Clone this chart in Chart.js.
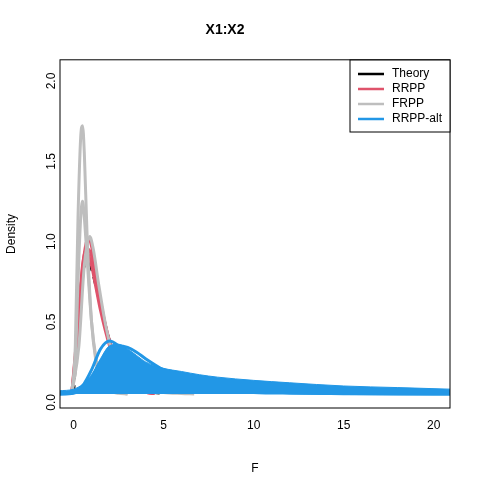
<!DOCTYPE html>
<html><head>
<script src="https://cdn.jsdelivr.net/npm/chart.js@4"></script>
<style>body{margin:0;background:#fff}#wrap{width:480px;height:480px}</style>
</head><body><div id="wrap"><canvas id="c"></canvas></div>
<script>
// --- data ---
const xTicks = [0, 5, 10, 15, 20];
const yTicks = [0, 0.5, 1.0, 1.5, 2.0];
const legendLabels = ['Theory', 'RRPP', 'FRPP', 'RRPP-alt'];
const legendColors = ['#000000', '#DF536B', '#BEBEBE', '#2297E6'];

const theoryX = [0, 0.25, 0.5, 0.75, 1, 1.25, 1.5, 2, 2.5, 3, 3.5, 4, 4.5, 5];
const theoryY = [0, 0.45, 0.75, 0.82, 0.78, 0.67, 0.55, 0.33, 0.19, 0.10, 0.05, 0.025, 0.01, 0.005];

const rrppX = [-0.1, 0.2, 0.5, 0.7, 0.85, 1.0, 1.25, 1.5, 2, 2.5, 3, 3.5, 4, 4.5];
const rrppY1 = [0, 0.35, 0.78, 0.94, 0.97, 0.92, 0.75, 0.58, 0.32, 0.16, 0.07, 0.03, 0.01, 0.003];
const rrppY2 = [0, 0.3, 0.72, 0.88, 0.9, 0.86, 0.72, 0.56, 0.33, 0.17, 0.08, 0.035, 0.012, 0.004];
const rrppY3 = [0, 0.38, 0.8, 0.9, 0.86, 0.8, 0.66, 0.52, 0.3, 0.15, 0.07, 0.03, 0.01, 0.003];

const frppX = [-0.1, 0.1, 0.25, 0.4, 0.5, 0.6, 0.75, 1.0, 1.25, 1.5, 2, 2.5, 3];
const frppY1 = [0, 0.3, 1.1, 1.6, 1.67, 1.5, 1.0, 0.45, 0.2, 0.08, 0.02, 0.005, 0];
const frppY2 = [0, 0.2, 0.7, 1.1, 1.2, 1.1, 0.85, 0.45, 0.22, 0.1, 0.03, 0.01, 0];
const frppX3 = [-0.1, 0.3, 0.6, 0.9, 1.1, 1.4, 1.8, 2.3, 3, 4, 5, 6, 6.7];
const frppY3 = [0, 0.3, 0.8, 0.98, 0.9, 0.68, 0.42, 0.2, 0.08, 0.03, 0.01, 0.003, 0];

const altX = [-0.8, 0, 0.5, 1, 1.5, 2, 2.5, 3, 3.5, 4, 5, 6, 7, 8, 10, 12, 15, 18, 21];
const altBand = [0.02, 0.03, 0.06, 0.12, 0.22, 0.30, 0.31, 0.28, 0.24, 0.2, 0.16, 0.14, 0.12, 0.105, 0.085, 0.07, 0.05, 0.04, 0.03];
const altY1 = [0, 0.01, 0.05, 0.15, 0.28, 0.33, 0.3, 0.25, 0.2, 0.16, 0.1, 0.06, 0.04, 0.025, 0.01, 0.005, 0.002, 0, 0];
const altY2 = [0, 0.005, 0.03, 0.1, 0.2, 0.27, 0.3, 0.29, 0.26, 0.22, 0.15, 0.1, 0.06, 0.04, 0.02, 0.01, 0.004, 0.001, 0];

const pts = (xs, ys) => xs.map((x, i) => ({ x: x, y: ys[i] }));
const line = (xs, ys, color, extra) => Object.assign({
  data: pts(xs, ys), borderColor: color, borderWidth: 3, pointRadius: 0,
  tension: 0.4, cubicInterpolationMode: 'monotone', fill: false
}, extra || {});

const frame = {
  id: 'frame',
  afterDraw(chart) {
    const { ctx, chartArea: a } = chart;
    ctx.save();
    ctx.strokeStyle = '#000'; ctx.lineWidth = 1;
    ctx.strokeRect(a.left, a.top, a.right - a.left, a.bottom - a.top);
    // legend box
    const bx = 350, by = 60, bw = 100, bh = 72;
    ctx.fillStyle = '#fff'; ctx.fillRect(bx, by, bw, bh);
    ctx.strokeRect(bx, by, bw, bh);
    ctx.font = '12px Arial, "Liberation Sans"'; ctx.textBaseline = 'middle';
    legendLabels.forEach((l, i) => {
      const y = by + 14 + i * 15;
      ctx.strokeStyle = legendColors[i]; ctx.lineWidth = 2.5;
      ctx.beginPath(); ctx.moveTo(bx + 8, y); ctx.lineTo(bx + 34, y); ctx.stroke();
      ctx.fillStyle = '#000'; ctx.fillText(l, bx + 42, y);
    });
    ctx.restore();
  }
};

new Chart(document.getElementById('c'), {
  type: 'line',
  data: {
    datasets: [
      line(altX, altBand, '#2297E6', { borderWidth: 1, fill: 'origin', backgroundColor: '#2297E6' }),
      line(altX, altY1, '#2297E6'),
      line(altX, altY2, '#2297E6'),
      line(frppX, frppY1, '#BEBEBE'),
      line(frppX, frppY2, '#BEBEBE'),
      line(frppX3, frppY3, '#BEBEBE'),
      line(rrppX, rrppY1, '#DF536B'),
      line(rrppX, rrppY2, '#DF536B'),
      line(rrppX, rrppY3, '#DF536B'),
      line(theoryX, theoryY, '#000000', { borderDash: [9, 6], borderWidth: 3 })
    ]
  },
  options: {
    animation: false, responsive: true, maintainAspectRatio: false,
    layout: { padding: { top: 0, right: 30, left: 0, bottom: 0 } },
    plugins: {
      legend: { display: false }, tooltip: { enabled: false },
      title: { display: true, text: 'X1:X2', color: '#000', padding: { top: 22, bottom: 21 },
        font: { family: 'Arial, "Liberation Sans"', size: 14, weight: 'bold' } }
    },
    scales: {
      x: {
        type: 'linear', min: -0.75, max: 20.9,
        grid: { display: false, drawTicks: true, tickLength: 6, color: '#000' },
        border: { display: false },
        afterBuildTicks: s => { s.ticks = xTicks.map(v => ({ value: v })); },
        afterFit: s => { s.height = 72; },
        ticks: { color: '#000', font: { family: 'Arial, "Liberation Sans"', size: 12 }, padding: 4, maxRotation: 0 },
        title: { display: true, text: 'F', color: '#000', padding: { top: 14 }, font: { family: 'Arial, "Liberation Sans"', size: 12 } }
      },
      y: {
        min: -0.087, max: 2.08,
        grid: { display: false, drawTicks: true, tickLength: 6, color: '#000' },
        border: { display: false },
        afterBuildTicks: s => { s.ticks = yTicks.map(v => ({ value: v })); },
        afterFit: s => { s.width = 60; },
        ticks: { color: '#000', minRotation: 90, maxRotation: 90, padding: 2,
          font: { family: 'Arial, "Liberation Sans"', size: 12 }, callback: v => v.toFixed(1) },
        title: { display: true, text: 'Density', color: '#000', font: { family: 'Arial, "Liberation Sans"', size: 12 } }
      }
    }
  },
  plugins: [frame]
});
</script></body></html>
